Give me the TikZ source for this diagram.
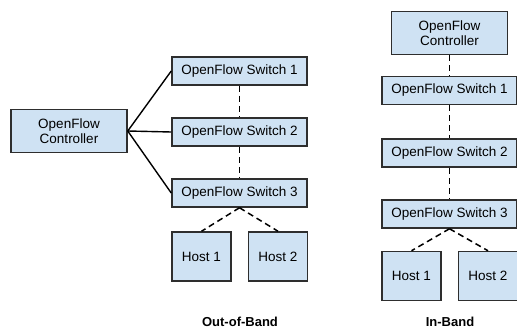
\documentclass[tikz,border=0pt]{standalone}
\usepackage{fontspec}
\setmainfont{Liberation Sans}
\usetikzlibrary{positioning}

\definecolor{boxfill}{HTML}{CFE2F3}
\definecolor{boxline}{HTML}{2E2E2E}

\tikzset{
    ofbox/.style={draw=boxline, line width=1.5pt, fill=boxfill, inner sep=0pt,
        font=\fontsize{13.5}{15.5}\selectfont, align=center},
    ctrlbox/.style={ofbox, minimum width=116pt, minimum height=43pt},
    switchbox/.style={ofbox, minimum width=135pt, minimum height=28pt},
    hostbox/.style={ofbox, minimum width=59pt, minimum height=49pt},
    ctrllink/.style={draw=black, line width=1.4pt},
    datalink/.style={draw=black, line width=1.5pt, dash pattern=on 6pt off 4pt},
    caption/.style={font=\bfseries\fontsize{13}{15}\selectfont}
}

\begin{document}
\begin{tikzpicture}[x=1pt, y=-1pt]

    \useasboundingbox (0,0) rectangle (517,329);

    % out-of-band
    \node[ctrlbox] (ctrlA) at (69,131) {OpenFlow\\Controller};
    \node[switchbox] (swA1) at (239.5,71) {OpenFlow Switch 1};
    \node[switchbox] (swA2) at (239.5,132) {OpenFlow Switch 2};
    \node[switchbox] (swA3) at (239.5,193) {OpenFlow Switch 3};
    \node[hostbox] (hostA1) at (201.5,256.5) {Host 1};
    \node[hostbox] (hostA2) at (278,256.5) {Host 2};
    \node[caption] (labA) at (240,322) {Out-of-Band};

    \path[ctrllink] (ctrlA.east) -- (swA1.west);
    \path[ctrllink] (ctrlA.east) -- (swA2.west);
    \path[ctrllink] (ctrlA.east) -- (swA3.west);
    \path[datalink] (swA1.south) -- (swA2.north);
    \path[datalink] (swA2.south) -- (swA3.north);
    \path[datalink] (swA3.south) -- (hostA1.north);
    \path[datalink] (swA3.south) -- (hostA2.north);

    % in-band
    \node[ctrlbox] (ctrlB) at (449.5,33) {OpenFlow\\Controller};
    \node[switchbox] (swB1) at (449.5,90.5) {OpenFlow Switch 1};
    \node[switchbox] (swB2) at (449.5,153) {OpenFlow Switch 2};
    \node[switchbox] (swB3) at (449.5,214) {OpenFlow Switch 3};
    \node[hostbox] (hostB1) at (411.5,276) {Host 1};
    \node[hostbox] (hostB2) at (488,276) {Host 2};
    \node[caption] (labB) at (450,322) {In-Band};

    \path[datalink] (ctrlB.south) -- (swB1.north);
    \path[datalink] (swB1.south) -- (swB2.north);
    \path[datalink] (swB2.south) -- (swB3.north);
    \path[datalink] (swB3.south) -- (hostB1.north);
    \path[datalink] (swB3.south) -- (hostB2.north);

\end{tikzpicture}
\end{document}
